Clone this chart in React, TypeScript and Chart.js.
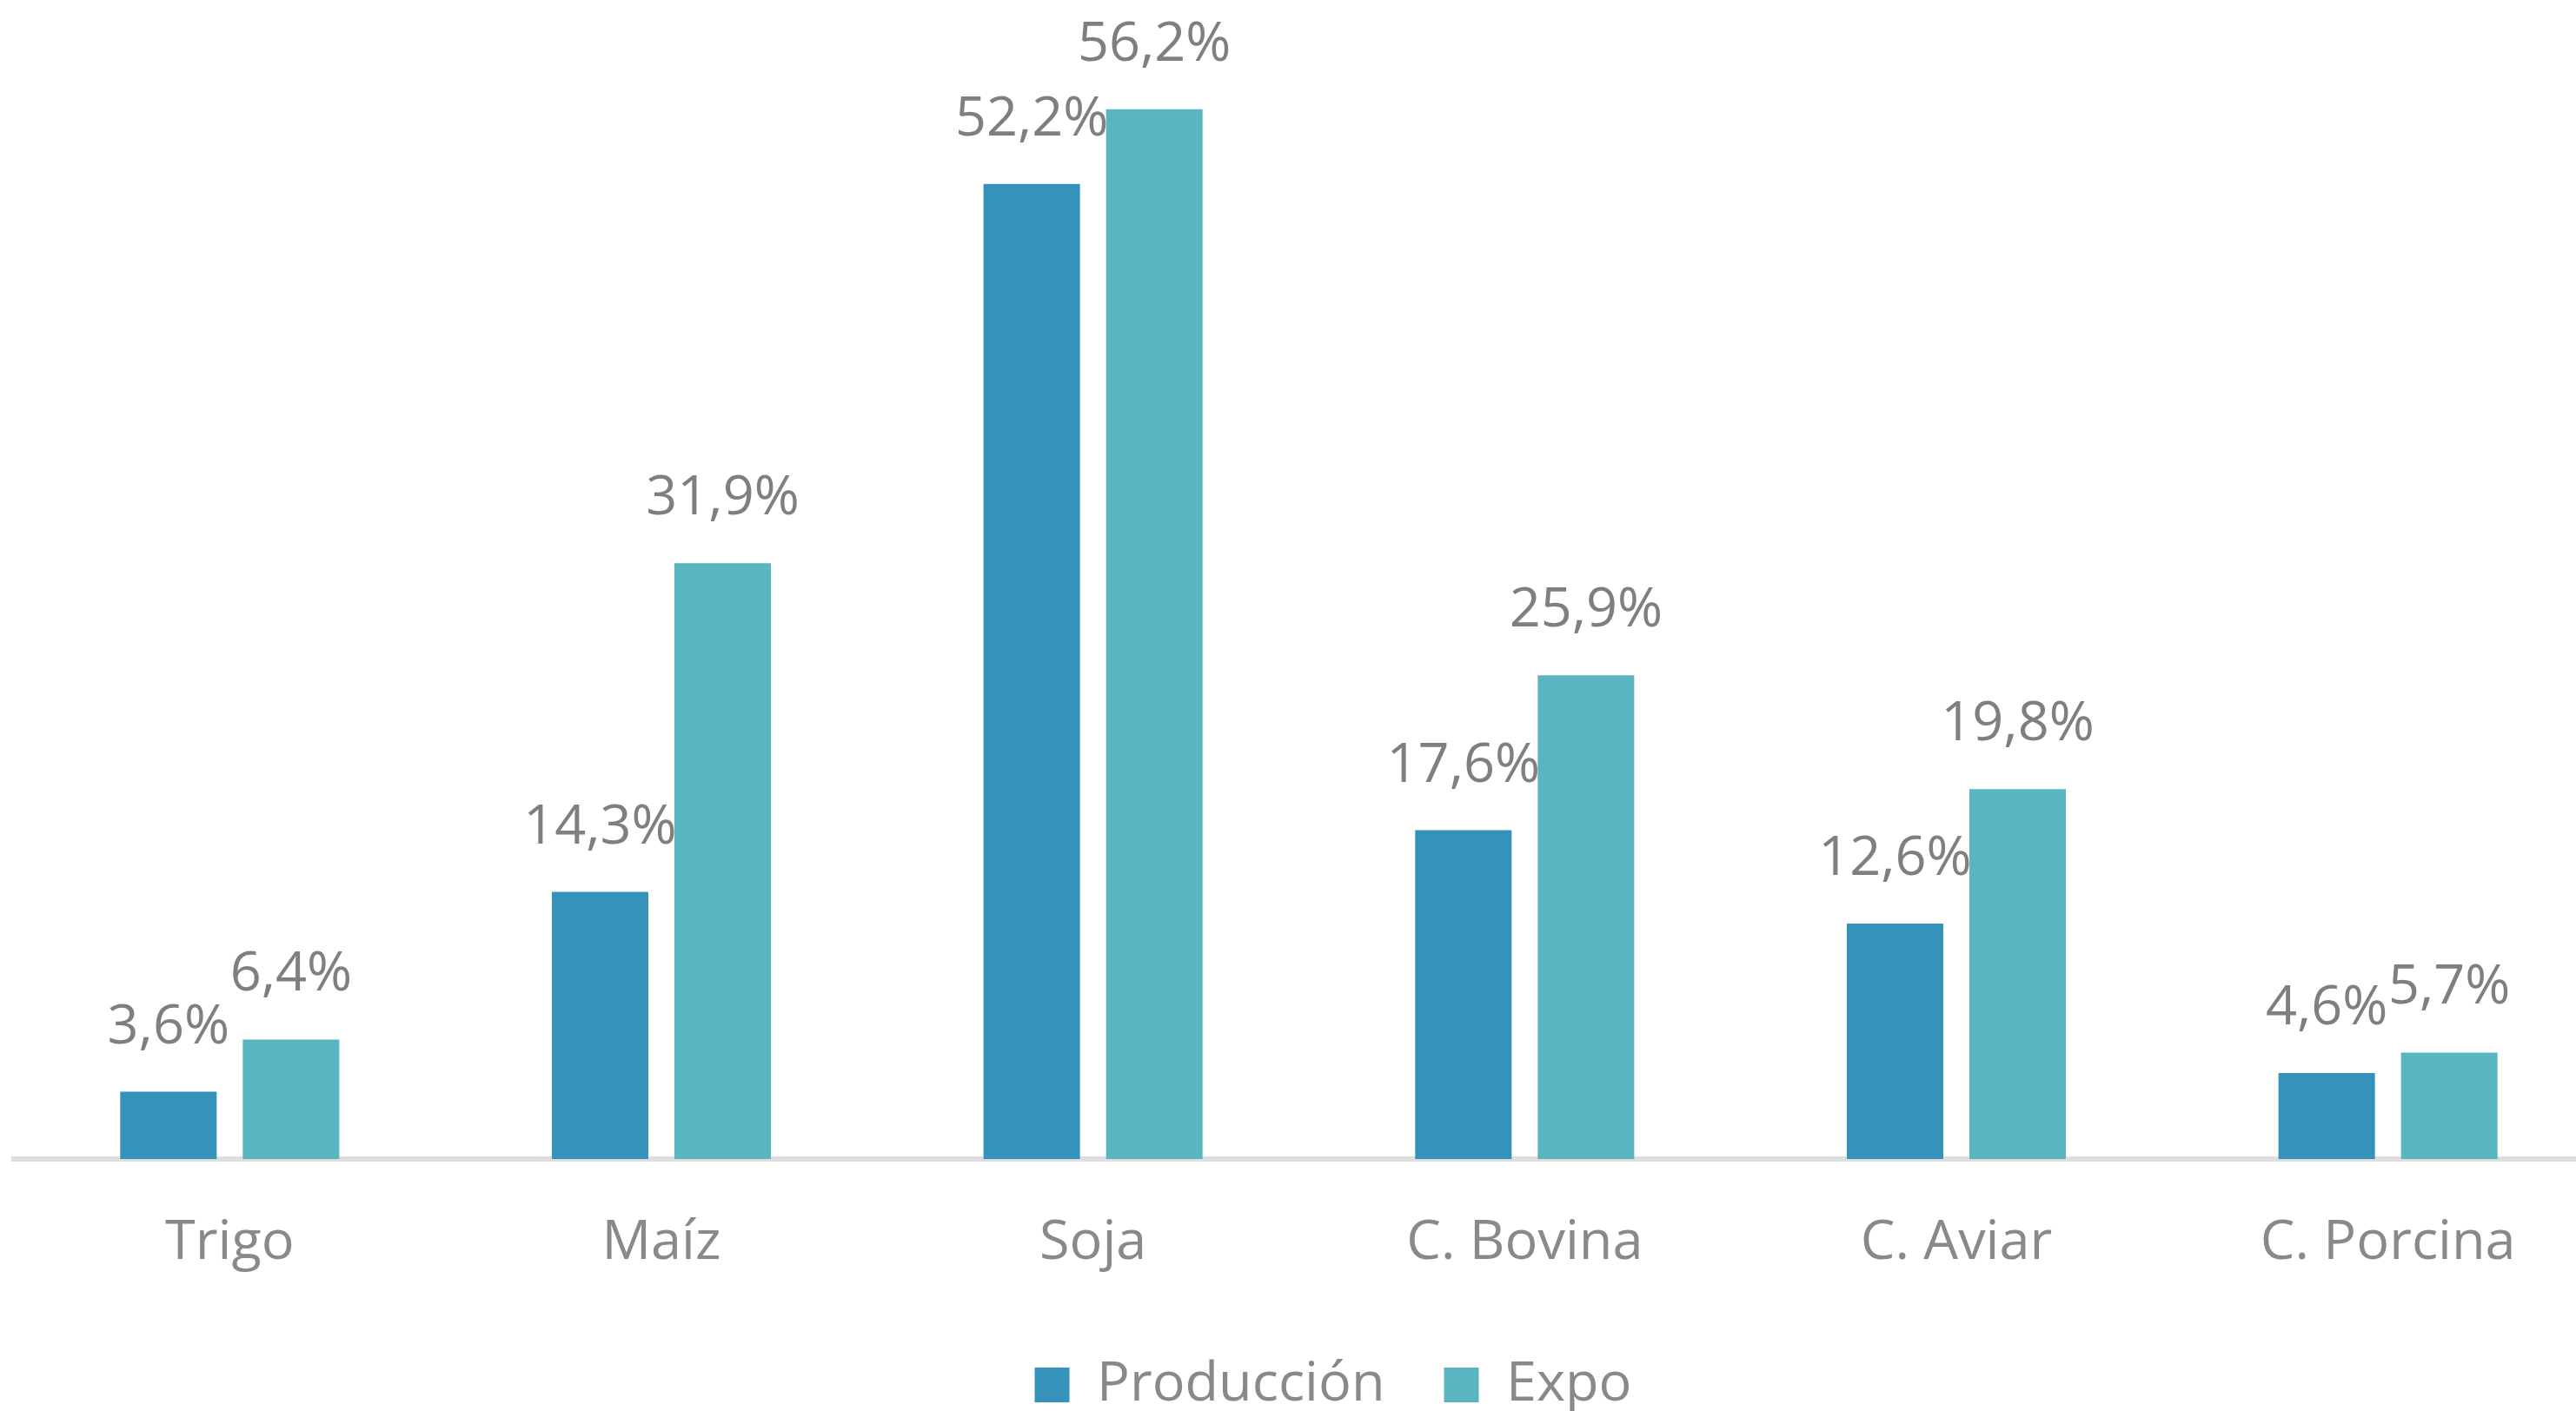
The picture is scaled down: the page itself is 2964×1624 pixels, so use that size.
import React, { useEffect, useRef } from "react";
import { Chart, registerables } from "chart.js";

Chart.register(...registerables);

const categories = ["Trigo", "Maíz", "Soja", "C. Bovina", "C. Aviar", "C. Porcina"];
const produccion = [3.6, 14.3, 52.2, 17.6, 12.6, 4.6];
const expo = [6.4, 31.9, 56.2, 25.9, 19.8, 5.7];
const seriesNames = ["Producción", "Expo"];
const seriesColors = ["#3592BA", "#59B5C0"];

const FONT = "'Open Sans', 'Noto Sans', sans-serif";

const valueLabels = {
  id: "valueLabels",
  afterLayout(chart: any) {
    if (chart.legend) {
      chart.legend.left += 28;
      chart.legend.right += 28;
    }
  },
  afterDatasetsDraw(chart: any) {
    const ctx = chart.ctx;
    ctx.save();
    ctx.font = `63px ${FONT}`;
    ctx.fillStyle = "#7f7f7f";
    ctx.textAlign = "center";
    ctx.textBaseline = "alphabetic";
    chart.data.datasets.forEach((ds: any, i: number) => {
      const meta = chart.getDatasetMeta(i);
      meta.data.forEach((bar: any, j: number) => {
        const v = ds.data[j] as number;
        const txt = v.toFixed(1).replace(".", ",") + "%";
        ctx.fillText(txt, bar.x, bar.y - 56);
      });
    });
    ctx.restore();
  },
};

export default function App() {
  const ref = useRef<HTMLCanvasElement | null>(null);
  useEffect(() => {
    if (!ref.current) return;
    const chart = new Chart(ref.current, {
      type: "bar",
      data: {
        labels: categories,
        datasets: [
          { label: seriesNames[0], data: produccion, backgroundColor: seriesColors[0] },
          { label: seriesNames[1], data: expo, backgroundColor: seriesColors[1] },
        ],
      },
      options: {
        responsive: false,
        animation: false,
        devicePixelRatio: 1,
        layout: { padding: { left: 16, right: 4, top: 44, bottom: 4.5 } },
        datasets: {
          bar: { categoryPercentage: 0.568, barPercentage: 0.787 },
        },
        plugins: {
          tooltip: { enabled: false },
          legend: {
            position: "bottom",
            labels: {
              font: { family: FONT, size: 63 },
              color: "#898989",
              boxWidth: 40,
              boxHeight: 40,
              padding: 68,
            },
          },
        },
        scales: {
          x: {
            grid: { display: false, drawTicks: false },
            border: { display: true, color: "#DEDEDE", width: 6 },
            ticks: {
              font: { family: FONT, size: 63 },
              color: "#898989",
              padding: 59,
              maxRotation: 0,
              autoSkip: false,
            },
            afterFit: (scale: any) => {
              scale.height = 160.5;
            },
          },
          y: {
            display: false,
            min: 0,
            max: 60,
          },
        },
      },
      plugins: [valueLabels],
    });
    return () => chart.destroy();
  }, []);
  return (
    <div
      style={{
        position: "fixed",
        left: 0,
        top: 0,
        width: 2964,
        height: 1624,
        overflow: "hidden",
        background: "#ffffff",
      }}
    >
      <canvas ref={ref} width={3000} height={1640} style={{ display: "block" }} />
    </div>
  );
}
